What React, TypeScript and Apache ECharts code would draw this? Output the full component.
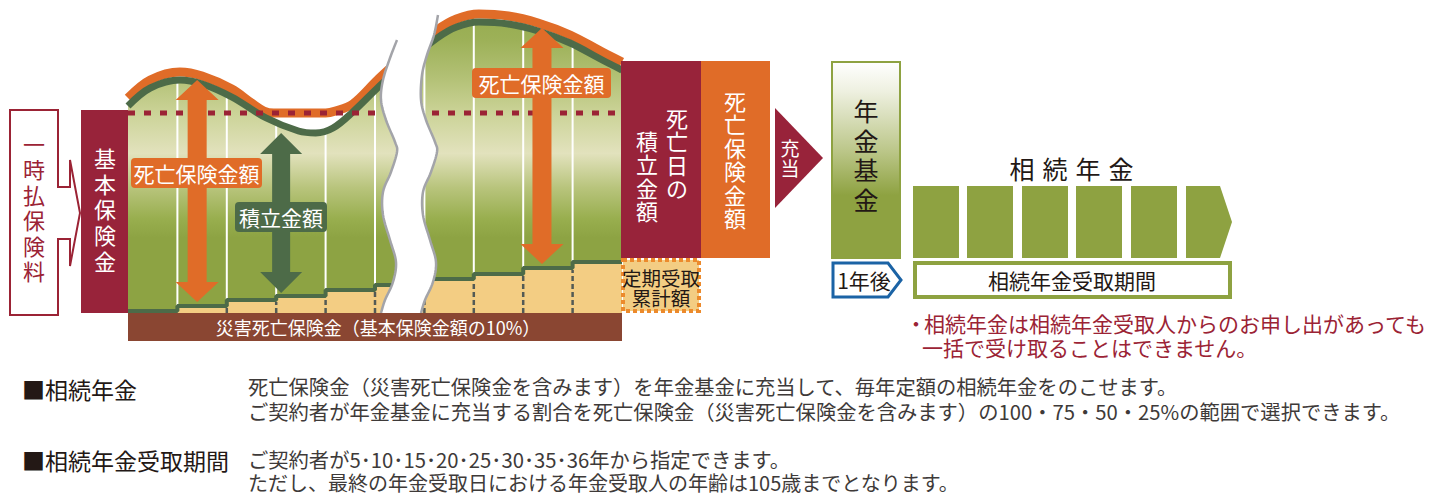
import React, { useEffect, useRef } from "react";
import * as echarts from "echarts";

const FONT = '"Noto Sans CJK JP", "Noto Sans", sans-serif';

// x = policy-year position (one column = one year), y = amount (basic insurance amount = 100)
const accumX = [0, 0.45, 1.05, 1.5, 2.1, 2.8, 3.45, 3.8, 4.15, 4.55, 5.05, 5.45, 6.26, 6.65, 7.1, 7.7, 8.3, 8.95, 9.6, 10];
const accumValues = [103.5, 112.5, 116.5, 114.5, 108, 97.5, 91, 90, 92.5, 100.5, 112.5, 121.5, 137.5, 143, 145.5, 144.5, 141, 135, 126.5, 121.5];
const deathX = [0, 0.45, 1.05, 1.5, 2.1, 2.5, 2.75, 2.95, 4.0, 4.2, 4.55, 5.05, 5.45, 6.26, 6.65, 7.1, 7.7, 8.3, 8.95, 9.6, 10];
const deathValues = [107.5, 116.5, 120.5, 118.5, 112, 105, 101, 100, 100, 101, 104.5, 116.5, 125.5, 141.5, 147, 149.5, 148.5, 145, 139, 130.5, 125.5];
const basicAmount = 100;
const yearStarts = [0, 1, 2, 3, 4, 5, 6, 7, 8, 9];
const receivedValues = [1, 3.5, 6.5, 8.5, 11.5, 14, 17, 19.5, 22.5, 25.5];
const columnLines = [1, 2, 3, 4, 5, 6, 7, 8, 9];
const deathArrowX = [1.4, 8.38];
const deathArrowFrom = [5.5, 24.5];
const deathArrowTo = [116.5, 142.5];
const accumArrowX = [3.1];
const accumArrowFrom = [10];
const accumArrowTo = [90];

const ORANGE = "#e06c28";
const DKGREEN = "#4d6b48";
const MAROON = "#98233a";
const OLIVE = "#8ea241";
const TAN = "#f3cd83";
const INK = "#231815";

// wavy break outline (decorative)
const leftWave = [[397, 40], [390, 58], [383, 80], [381, 100], [386, 120], [395, 142], [397, 152], [391, 172], [383, 192], [383, 215], [390, 240], [396, 262], [393, 282], [385, 300], [381, 313]];
const rightWave = [[438, 15], [434, 35], [427, 55], [422, 75], [421, 100], [426, 120], [435, 142], [437, 152], [431, 172], [423, 192], [423, 215], [430, 240], [436, 262], [433, 282], [425, 300], [421, 313]];

function spline(pts: number[][], seg: number) {
  const out: number[][] = [];
  const n = pts.length;
  for (let i = 0; i < n - 1; i++) {
    const p0 = pts[Math.max(i - 1, 0)], p1 = pts[i], p2 = pts[i + 1], p3 = pts[Math.min(i + 2, n - 1)];
    for (let s = 0; s < seg; s++) {
      const t = s / seg, t2 = t * t, t3 = t2 * t;
      const f = (a: number, b: number, c: number, d: number) =>
        0.5 * (2 * b + (-a + c) * t + (2 * a - 5 * b + 4 * c - d) * t2 + (-a + 3 * b - 3 * c + d) * t3);
      out.push([f(p0[0], p1[0], p2[0], p3[0]), f(p0[1], p1[1], p2[1], p3[1])]);
    }
  }
  out.push(pts[n - 1]);
  return out;
}

function txt(s: string, x: number, y: number, size: number, color: string, align = "left", z = 30) {
  return {
    type: "text", x, y, z,
    style: { text: s, fontSize: size, fontFamily: FONT, fill: color, align, verticalAlign: "middle", textAlign: align, textVerticalAlign: "middle" },
  };
}
// vertical (top-to-bottom) Japanese text: one character per line
function vtext(s: string, x: number, firstCy: number, step: number, size: number, color: string) {
  return s.split("").map((c, i) => txt(c, x, firstCy + i * step, size, color, "center"));
}

function arrowItem(color: string, hw: number, sw: number, hl: number) {
  return (params: any, api: any) => {
    const b = api.coord([api.value(0), api.value(1)]);
    const t = api.coord([api.value(0), api.value(2)]);
    const cx = b[0], yb = b[1], yt = t[1];
    return {
      type: "polygon",
      shape: {
        points: [[cx, yt], [cx + hw, yt + hl], [cx + sw, yt + hl], [cx + sw, yb - hl], [cx + hw, yb - hl], [cx, yb],
          [cx - hw, yb - hl], [cx - sw, yb - hl], [cx - sw, yt + hl], [cx - hw, yt + hl]],
      },
      style: { fill: color },
    };
  };
}

export default function App() {
  const ref = useRef<HTMLDivElement>(null);
  useEffect(() => {
    if (!ref.current) return;
    const chart = echarts.init(ref.current, null, { renderer: "svg" });
    const L = spline(leftWave, 8);
    const R = spline(rightWave, 8);
    const breakPoly = [[L[0][0], 0], ...L, ...R.slice().reverse(), [R[0][0], 0]];

    const annuityBoxes = [913, 967, 1022, 1076, 1131].map((x) => ({
      type: "rect", z: 20, shape: { x, y: 186, width: 46, height: 72 }, style: { fill: OLIVE },
    }));

    const graphicEls: any[] = [
      // left inputs
      {
        type: "polygon", z: 20,
        shape: { points: [[10, 110], [58, 110], [58, 187], [70, 187], [70, 160], [80, 213], [70, 266], [70, 239], [58, 239], [58, 315], [10, 315]] },
        style: { fill: "#fff", stroke: "#9b2335", lineWidth: 2 },
      },
      ...vtext("一時払保険料", 34, 143, 25.4, 22, "#9b2335"),
      { type: "rect", z: 20, shape: { x: 81, y: 110, width: 47, height: 203 }, style: { fill: MAROON } },
      ...vtext("基本保険金", 105, 157, 25.7, 22, "#fff"),
      // break
      { type: "polygon", z: 15, shape: { points: breakPoly }, style: { fill: "#fff" } },
      { type: "polyline", z: 16, shape: { points: L }, style: { stroke: "#a3a4a9", lineWidth: 2.5, fill: null } },
      { type: "polyline", z: 16, shape: { points: R }, style: { stroke: "#a3a4a9", lineWidth: 2.5, fill: null } },
      // bottom band
      { type: "rect", z: 20, shape: { x: 128, y: 313, width: 494, height: 28 }, style: { fill: "#8a4632" } },
      txt("災害死亡保険金（基本保険金額の10%）", 378, 327, 18, "#fff", "center"),
      // labels on chart
      { type: "rect", z: 25, shape: { x: 131, y: 158, width: 131, height: 30, r: 4 }, style: { fill: ORANGE } },
      txt("死亡保険金額", 196.5, 173, 21, "#fff", "center"),
      { type: "rect", z: 25, shape: { x: 235, y: 202, width: 92, height: 30, r: 4 }, style: { fill: DKGREEN } },
      txt("積立金額", 281, 217, 21, "#fff", "center"),
      { type: "rect", z: 25, shape: { x: 472, y: 68, width: 139, height: 30, r: 4 }, style: { fill: ORANGE } },
      txt("死亡保険金額", 541.5, 83, 21, "#fff", "center"),
      // death-day boxes
      { type: "rect", z: 20, shape: { x: 621, y: 61, width: 80, height: 197 }, style: { fill: MAROON } },
      ...vtext("死亡日の", 677, 117, 23.4, 22, "#fff"),
      ...vtext("積立金額", 647, 140, 23.4, 22, "#fff"),
      { type: "rect", z: 20, shape: { x: 701, y: 61, width: 69, height: 197 }, style: { fill: ORANGE } },
      ...vtext("死亡保険金額", 735, 100, 23.4, 22, "#fff"),
      {
        type: "rect", z: 20, shape: { x: 623, y: 260, width: 76, height: 51 },
        style: { fill: TAN, stroke: "#ec8a2c", lineWidth: 4, lineDash: [4, 3] },
      },
      txt("定期受取", 661, 277, 19.5, INK, "center"),
      txt("累計額", 661, 297, 19.5, INK, "center"),
      // 充当 arrow
      { type: "polygon", z: 20, shape: { points: [[775, 108], [823, 158], [775, 208]] }, style: { fill: MAROON } },
      ...vtext("充当", 790, 147, 20.5, 19, "#fff"),
      // pension fund
      {
        type: "rect", z: 20, shape: { x: 832, y: 62, width: 68, height: 196 },
        style: {
          fill: {
            type: "linear", x: 0, y: 0, x2: 0, y2: 1,
            colorStops: [
              { offset: 0, color: "#ffffff" }, { offset: 0.15, color: "#eef0e0" }, { offset: 0.45, color: "#bcc78a" },
              { offset: 0.68, color: OLIVE }, { offset: 1, color: OLIVE },
            ],
          },
          stroke: OLIVE, lineWidth: 2,
        },
      },
      ...vtext("年金基金", 866, 110, 29.7, 25, INK),
      {
        type: "polygon", z: 20, shape: { points: [[833, 263], [888, 263], [901, 280], [888, 297], [833, 297]] },
        style: { fill: "#fff", stroke: "#1b63a5", lineWidth: 3 },
      },
      txt("1年後", 864, 280, 21, INK, "center"),
      // annuity
      ...["相", "続", "年", "金"].map((c, i) => txt(c, 1022 + i * 33, 168, 25, INK, "center")),
      ...annuityBoxes,
      { type: "polygon", z: 20, shape: { points: [[1186, 186], [1220, 186], [1232, 222], [1220, 258], [1186, 258]] }, style: { fill: OLIVE } },
      { type: "rect", z: 20, shape: { x: 915, y: 263, width: 315, height: 34 }, style: { fill: "#fff", stroke: OLIVE, lineWidth: 4 } },
      txt("相続年金受取期間", 1072, 280, 21, INK, "center"),
      txt("・", 916, 323, 21, "#9b2335", "center"),
      txt("相続年金は相続年金受取人からのお申し出があっても", 924, 323, 21, "#9b2335"),
      txt("一括で受け取ることはできません。", 922, 347, 21, "#9b2335"),
      // notes
      txt("■相続年金", 22, 389, 23, INK),
      txt("死亡保険金（災害死亡保険金を含みます）を年金基金に充当して、毎年定額の相続年金をのこせます。", 248, 386, 20.3, "#3e3a39"),
      txt("ご契約者が年金基金に充当する割合を死亡保険金（災害死亡保険金を含みます）の100・75・50・25%の範囲で選択できます。", 248, 411, 20.3, "#3e3a39"),
      txt("■相続年金受取期間", 22, 460, 23, INK),
      txt("ご契約者が5･10･15･20･25･30･35･36年から指定できます。", 248, 459, 20.3, "#3e3a39"),
      txt("ただし、最終の年金受取日における年金受取人の年齢は105歳までとなります。", 248, 482, 20, "#3e3a39"),
    ];

    const areaGradient = {
      type: "linear", x: 0, y: 0, x2: 0, y2: 313, global: true,
      colorStops: [
        { offset: 0, color: "#92a94a" }, { offset: 0.13, color: "#9db158" }, { offset: 0.25, color: "#b3c176" },
        { offset: 0.36, color: "#cbd397" }, { offset: 0.49, color: "#e2e2bd" }, { offset: 0.6, color: "#b8c47c" },
        { offset: 0.7, color: "#98ae4e" }, { offset: 0.76, color: "#8da343" }, { offset: 1, color: "#8da343" },
      ],
    };

    const stepData = yearStarts.map((x, i) => [x, receivedValues[i]]);
    stepData.push([10, receivedValues[receivedValues.length - 1]]);

    chart.setOption({
      animation: false,
      grid: { left: 128, top: 0, width: 494, height: 313, containLabel: false },
      xAxis: { type: "value", min: 0, max: 10, show: false },
      yAxis: { type: "value", min: 0, max: 156.5, show: false },
      series: [
        {
          type: "line", z: 1, silent: true, smooth: 0.35, symbol: "none",
          data: accumX.map((x, i) => [x, accumValues[i]]),
          lineStyle: { width: 0, opacity: 0 },
          areaStyle: { color: areaGradient, opacity: 1 },
        },
        {
          type: "custom", z: 2, silent: true, coordinateSystem: "cartesian2d",
          data: columnLines.map((x) => [x, 0]),
          encode: { x: 0, y: 1 },
          renderItem: (params: any, api: any) => {
            const p0 = api.coord([api.value(0), 0]);
            const p1 = api.coord([api.value(0), 156.5]);
            return { type: "line", shape: { x1: p0[0], y1: p0[1], x2: p1[0], y2: p1[1] }, style: { stroke: "#ffffff", lineWidth: 2 } };
          },
        },
        {
          type: "line", z: 3, silent: true, smooth: 0.35, symbol: "none",
          data: deathX.map((x, i) => [x, deathValues[i]]),
          lineStyle: { color: ORANGE, width: 9 },
        },
        {
          type: "line", z: 4, silent: true, smooth: 0.35, symbol: "none",
          data: accumX.map((x, i) => [x, accumValues[i]]),
          lineStyle: { color: DKGREEN, width: 7 },
        },
        {
          type: "line", z: 5, silent: true, step: "end", symbol: "none",
          data: stepData,
          lineStyle: { color: DKGREEN, width: 4 },
          areaStyle: { color: TAN, opacity: 1 },
        },
        {
          type: "custom", z: 6, silent: true, coordinateSystem: "cartesian2d",
          data: columnLines.slice(1).map((x) => [x, receivedValues[x - 1]]),
          encode: { x: 0, y: 1 },
          renderItem: (params: any, api: any) => {
            const p0 = api.coord([api.value(0), 0]);
            const p1 = api.coord([api.value(0), api.value(1)]);
            return {
              type: "line", shape: { x1: p0[0], y1: p0[1], x2: p1[0], y2: p1[1] + 2 },
              style: { stroke: "#535a55", lineWidth: 2.5, lineDash: [5, 3] },
            };
          },
        },
        {
          type: "line", z: 7, silent: true, symbol: "none",
          data: [[0, basicAmount], [10, basicAmount]],
          lineStyle: { color: "#9b2335", width: 5, type: [7, 9] },
        },
        {
          type: "custom", z: 8, silent: true, coordinateSystem: "cartesian2d",
          data: deathArrowX.map((x, i) => [x, deathArrowFrom[i], deathArrowTo[i]]),
          encode: { x: 0, y: [1, 2] },
          renderItem: arrowItem(ORANGE, 21.5, 9.5, 20),
        },
        {
          type: "custom", z: 8, silent: true, coordinateSystem: "cartesian2d",
          data: accumArrowX.map((x, i) => [x, accumArrowFrom[i], accumArrowTo[i]]),
          encode: { x: 0, y: [1, 2] },
          renderItem: arrowItem(DKGREEN, 21, 9, 21),
        },
      ],
      graphic: { elements: graphicEls },
    });
    return () => chart.dispose();
  }, []);
  return <div ref={ref} style={{ position: "absolute", left: 0, top: 0, width: 1436, height: 497, background: "#fff" }} />;
}
